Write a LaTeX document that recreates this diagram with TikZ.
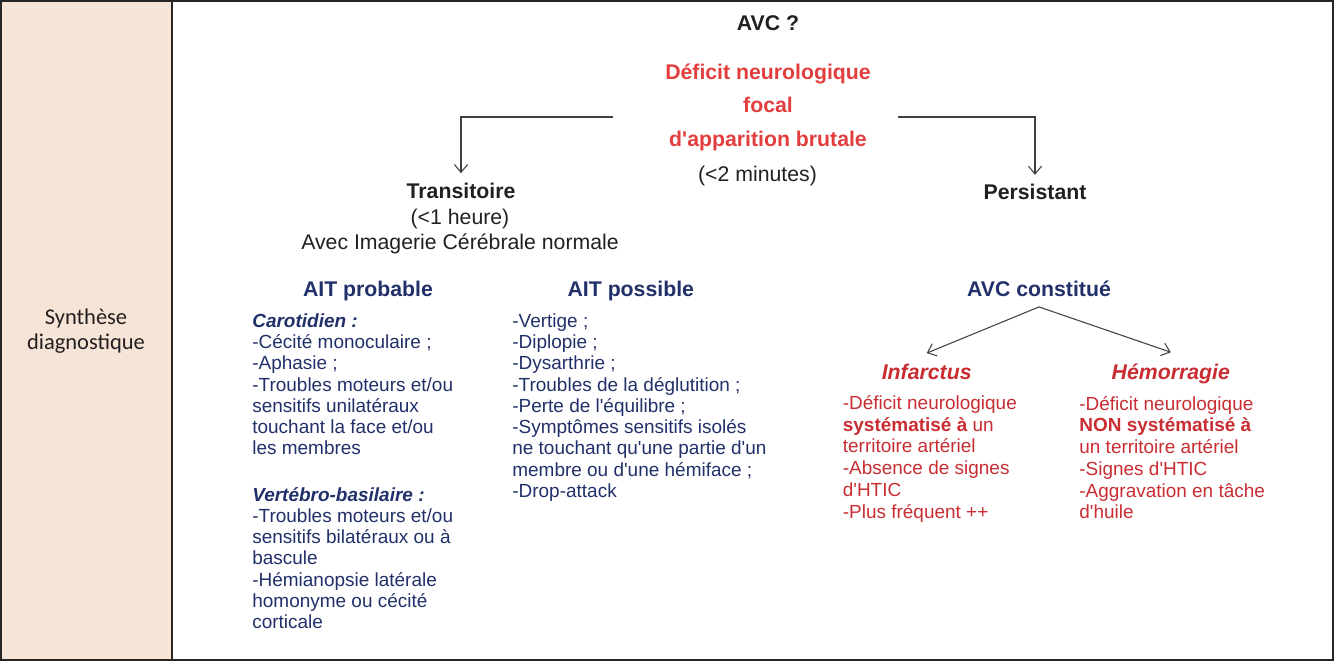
\documentclass[tikz,border=0pt]{standalone}
\usepackage{fontspec}
\setmainfont{Liberation Sans}
\newfontfamily\cellfont{Carlito}
\usetikzlibrary{arrows.meta}
\definecolor{ink}{RGB}{35,31,32}
\definecolor{navy}{RGB}{33,48,105}
\definecolor{brightred}{RGB}{226,62,62}
\definecolor{darkred}{RGB}{200,45,50}
\definecolor{peach}{RGB}{246,228,215}
\newcommand{\ap}{\textquotesingle}
\tikzset{
  arr/.style={draw=black!75, line width=0.6pt, -{Straight Barb[length=4.5pt,width=7.5pt]}},
  hdr/.style={font=\fontsize{12.1}{14}\selectfont\bfseries, anchor=base, text=ink},
  txt/.style={font=\fontsize{12.1}{14}\selectfont, anchor=base, text=ink},
  lst/.style={font=\fontsize{10.8}{12.1}\selectfont, align=left, anchor=north west, inner sep=0pt, text=navy},
  rlst/.style={lst, font=\fontsize{10.8}{12.36}\selectfont, text=darkred}
}

\begin{document}
\begin{tikzpicture}[x=0.02cm, y=-0.02cm]
  \useasboundingbox (0,0) rectangle (1334,661);
  % left cell and frame
  \fill[peach] (0,0) rectangle (172,661);
  \draw[black!85, line width=0.6pt] (172,0) -- (172,661);
  \draw[black!85, line width=0.9pt] (0.8,0.8) rectangle (1333.2,660.2);
  \node[font=\cellfont\fontsize{12.8}{14.2}\selectfont, align=center, text=ink] (synth) at (86,331) {Synthèse\\diagnostique};

  % top of the tree
  \node[hdr] (avc) at (768,31) {AVC ?};
  \node[hdr, text=brightred, align=center, anchor=north, inner sep=0pt, font=\fontsize{12.1}{18.9}\selectfont\bfseries] (deficit) at (768,56) {\strut Déficit neurologique\\focal\\d\ap apparition brutale};
  \node[txt] (mins) at (757.5,181.5) {(<2 minutes)};
  \coordinate (dl) at (613,117);
  \coordinate (dr) at (898,117);

  \node[hdr] (trans) at (461,198.3) {Transitoire};
  \node[txt] (transdur) at (460,225) {(<1 heure)};
  \node[txt] (transimg) at (460,250) {Avec Imagerie Cérébrale normale};
  \node[hdr] (pers) at (1035,200) {Persistant};
  \draw[arr] (dl) -| ([yshift=2pt]trans.north);
  \draw[arr] (dr) -| ([yshift=2pt]pers.north);

  % AIT
  \node[hdr, text=navy] (aitprob) at (368,296.7) {AIT probable};
  \node[hdr, text=navy] (aitposs) at (630.8,296.7) {AIT possible};
  \node[lst] (carot) at (252,312) {\strut\textbf{\textit{Carotidien :}}\\
    -Cécité monoculaire ;\\
    -Aphasie ;\\
    -Troubles moteurs et/ou\\
    sensitifs unilatéraux\\
    touchant la face et/ou\\
    les membres\\[14.3pt]
    \textbf{\textit{Vertébro-basilaire :}}\\
    -Troubles moteurs et/ou\\
    sensitifs bilatéraux ou à\\
    bascule\\
    -Hémianopsie latérale\\
    homonyme ou cécité\\
    corticale};
  \node[lst] (possl) at (512,312) {\strut -Vertige ;\\
    -Diplopie ;\\
    -Dysarthrie ;\\
    -Troubles de la déglutition ;\\
    -Perte de l\ap équilibre ;\\
    -Symptômes sensitifs isolés\\
    ne touchant qu\ap une partie d\ap un\\
    membre ou d\ap une hémiface ;\\
    -Drop-attack};

  % AVC constitue
  \node[hdr, text=navy] (avcc) at (1039,297) {AVC constitué};
  \coordinate (apex) at ([yshift=-2pt]avcc.south);
  \node[hdr, text=darkred, font=\fontsize{12.1}{14}\selectfont\bfseries\itshape] (inf) at (926.7,380) {Infarctus};
  \node[hdr, text=darkred, font=\fontsize{12.1}{14}\selectfont\bfseries\itshape] (hem) at (1170.8,379.3) {Hémorragie};
  \draw[arr] (apex) -- ([yshift=3pt]inf.north);
  \draw[arr] (apex) -- ([yshift=3pt]hem.north);
  \node[rlst] (infl) at (842.5,394) {\strut -Déficit neurologique\\
    \textbf{systématisé à} un\\
    territoire artériel\\
    -Absence de signes\\
    d\ap HTIC\\
    -Plus fréquent ++};
  \node[rlst] (heml) at (1079,394.7) {\strut -Déficit neurologique\\
    \textbf{NON systématisé à}\\
    un territoire artériel\\
    -Signes d\ap HTIC\\
    -Aggravation en tâche\\
    d\ap huile};
\end{tikzpicture}
\end{document}
